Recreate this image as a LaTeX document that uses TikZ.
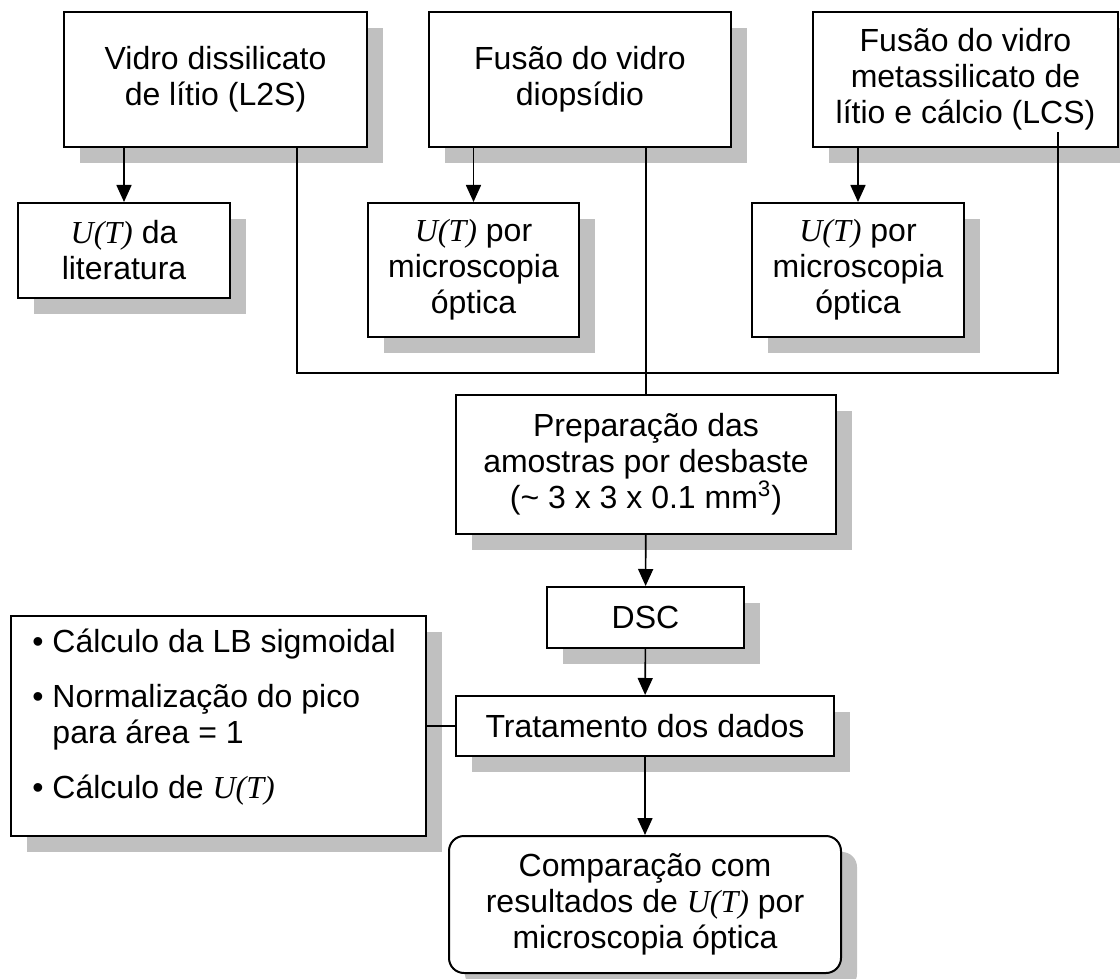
\documentclass[tikz,border=0pt]{standalone}
\usepackage{fontspec}
\setmainfont{Liberation Sans}
\newfontfamily\tnr{Liberation Serif}
\usetikzlibrary{arrows.meta,shadows}
\definecolor{shadowgray}{RGB}{192,192,192}
\newcommand{\uT}{{\tnr\itshape U(T)}}
\begin{document}
\begin{tikzpicture}[x=0.5pt,y=-0.5pt]
            \tikzset{
                box/.style={draw,line width=1pt,fill=white,align=center,inner sep=2pt,
                    font=\fontsize{16}{18}\selectfont,
                    drop shadow={shadow xshift=8pt,shadow yshift=-8pt,opacity=1,fill=shadowgray}},
                arr/.style={line width=0.8pt,-{Triangle[length=8.5pt,width=7.5pt]}},
                wire/.style={line width=0.6pt},}
            \clip (0,0) rectangle (1120,979);
            % vidros
            \node[box,minimum width=151.5pt,minimum height=67.5pt] (l2s) at (215.5,79.5) {Vidro dissilicato\\de lítio (L2S)};
            \node[box,minimum width=151pt,minimum height=67.5pt] (dio) at (580,79.5) {Fusão do vidro\\diopsídio};
            \node[box,minimum width=152.5pt,minimum height=67.5pt] (lcs) at (965.5,79.5) {Fusão do vidro\\metassilicato de\\lítio e cálcio (LCS)};
            % U(T)
            \node[box,minimum width=106pt,minimum height=47.5pt] (lit) at (124,250.5) {\uT{} da\\literatura};
            \node[box,minimum width=105.5pt,minimum height=67pt] (mo1) at (473.5,270) {\uT{} por\\microscopia\\óptica};
            \node[box,minimum width=106pt,minimum height=67pt] (mo2) at (858,270) {\uT{} por\\microscopia\\óptica};
            % DSC
            \node[box,minimum width=190pt,minimum height=69.5pt] (prep) at (646,464.5) {Preparação das\\amostras por desbaste\\(\textasciitilde{} 3 x 3 x 0.1 mm\textsuperscript{3})};
            \node[box,minimum width=98.5pt,minimum height=30.5pt] (dsc) at (645.5,617.5) {DSC};
            \node[box,minimum width=189pt,minimum height=30pt] (trat) at (645,726) {Tratamento dos dados};
            \node[box,minimum width=207.5pt,minimum height=110pt] (calc) at (218.5,726) {};
            \node[anchor=west,align=left,inner sep=0pt,font=\fontsize{16}{18}\selectfont] (calctxt) at (32,717)
                {\textbullet\ Cálculo da LB sigmoidal\\[9.5pt]
                 \textbullet\ Normalização do pico\\\phantom{\textbullet\ }para área = 1\\[9.5pt]
                 \textbullet\ Cálculo de \uT};
            \node[box,rounded corners=7.5pt,minimum width=196pt,minimum height=68.5pt] (comp) at (645,904.5) {Comparação com\\resultados de \uT{} por\\microscopia óptica};
            % ligacoes
            \draw[arr] (l2s.south -| lit.north) -- (lit.north);
            \draw[arr] (dio.south -| mo1.north) -- (mo1.north);
            \draw[arr] (lcs.south -| mo2.north) -- (mo2.north);
            \coordinate (ja) at (297,373);
            \coordinate (jc) at (1058,373);
            \coordinate (ctop) at (1058,132);
            \draw[wire] (l2s.south -| ja) -- (ja) -- (jc) -- (ctop);
            \draw[wire] (dio.south -| prep.north) -- (prep.north);
            \draw[arr] (prep) -- (dsc);
            \draw[arr] (dsc) -- (trat);
            \draw[arr] (trat) -- (comp);
            \draw[wire] (calc.east) -- (trat.west);
        \end{tikzpicture}
\end{document}
